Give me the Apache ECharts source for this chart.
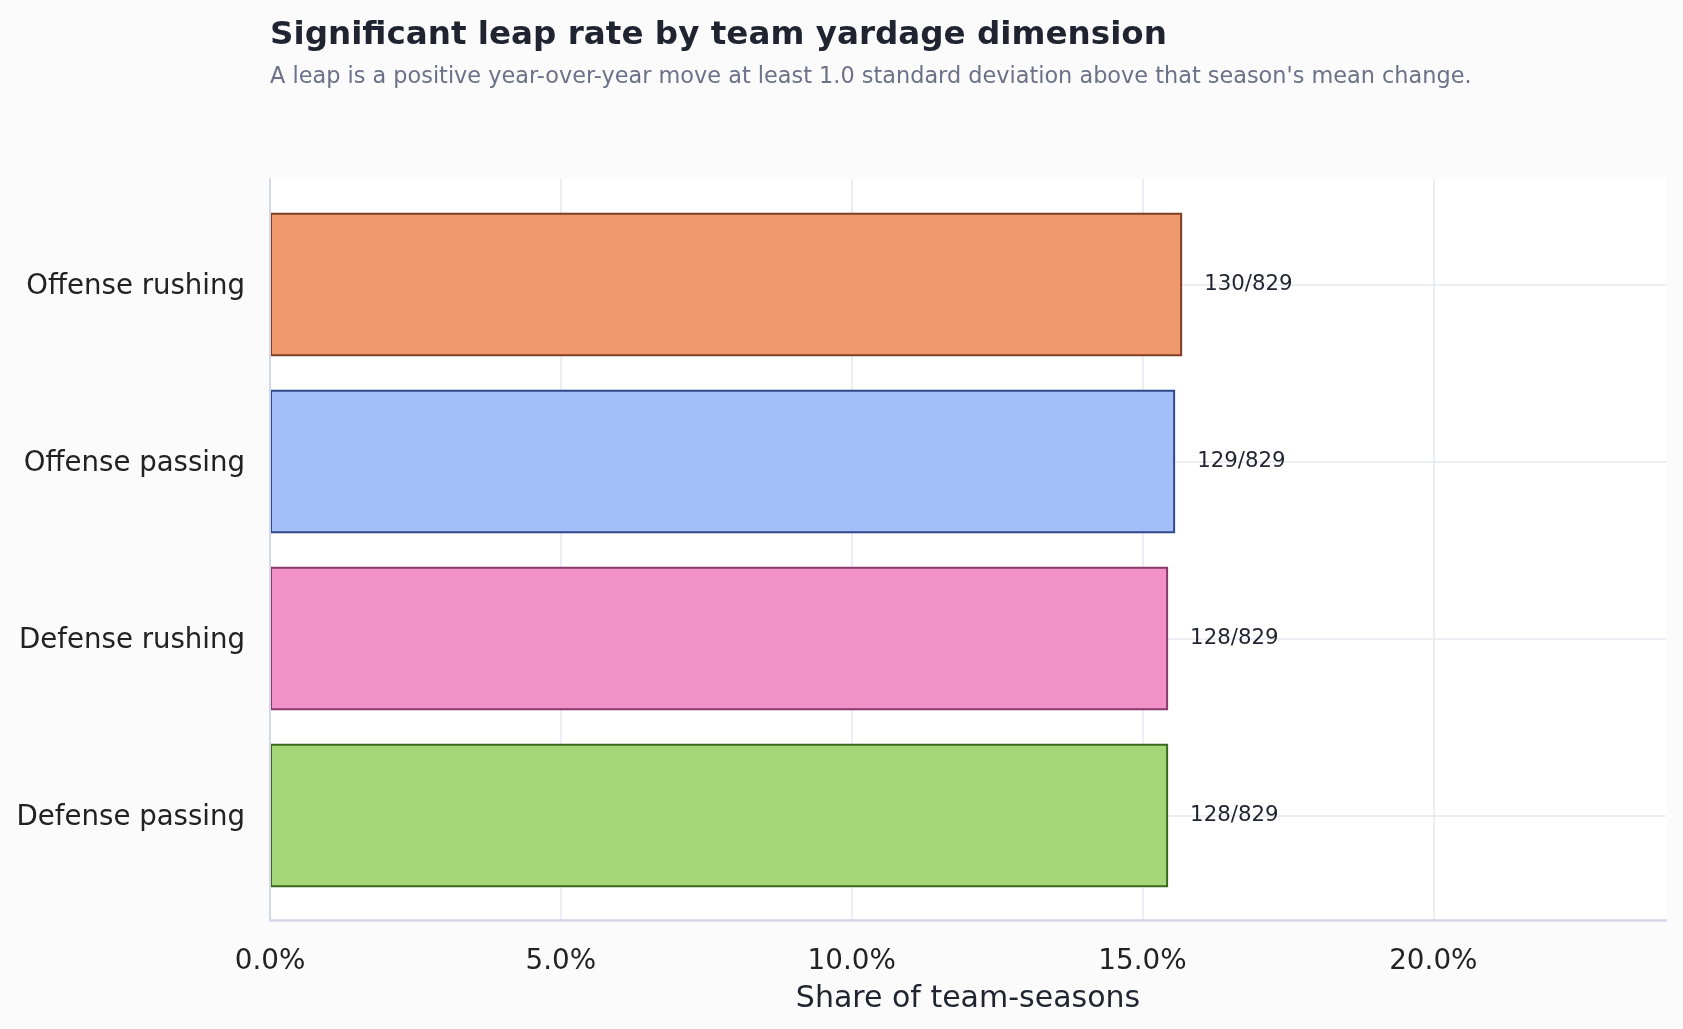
<!DOCTYPE html>
<html>
<head>
<meta charset="utf-8">
<script src="https://cdn.jsdelivr.net/npm/echarts@6/dist/echarts.min.js"></script>
<style>
html,body{margin:0;padding:0;background:#fbfbfb;}
#chart{width:1683px;height:1029px;}
</style>
</head>
<body>
<div id="chart"></div>
<script>
const categories = ['Offense rushing', 'Offense passing', 'Defense rushing', 'Defense passing'];
const leaps = [130, 129, 128, 128];
const totals = [829, 829, 829, 829];
const fillColors = ['#f0996f', '#a4befa', '#f290c8', '#a5d677'];
const edgeColors = ['#7e3f22', '#2f4a8c', '#883a6e', '#3a6a1c'];
const xTicks = [0, 5, 10, 15, 20];
const xMax = 24;

const shares = leaps.map((v, i) => v / totals[i] * 100);
const FONT = 'DejaVu Sans';

const chart = echarts.init(document.getElementById('chart'), null, {renderer: 'canvas'});
const option = {
  backgroundColor: '#fbfbfb',
  animation: false,
  title: [
    {
      text: 'Significant leap rate by team yardage dimension',
      left: 270, top: 19, padding: 0,
      textStyle: {fontFamily: FONT, fontSize: 32.6, fontWeight: 'bold', color: '#1f2430'}
    },
    {
      text: "A leap is a positive year-over-year move at least 1.0 standard deviation above that season's mean change.",
      left: 270, top: 66, padding: 0,
      textStyle: {fontFamily: FONT, fontSize: 22.4, fontWeight: 'normal', color: '#6b7288'}
    }
  ],
  grid: [
    {left: 270, right: 17, top: 179, bottom: 109, show: true, backgroundColor: '#ffffff', borderWidth: 0, containLabel: false},
    {left: 270, right: 17, top: 196, bottom: 125, containLabel: false}
  ],
  xAxis: [
    {
      gridIndex: 0, type: 'value', min: 0, max: xMax, interval: 5,
      axisLine: {show: true, onZero: false, lineStyle: {color: '#d3d7e8', width: 2.5}},
      axisTick: {show: false},
      axisLabel: {
        fontFamily: FONT, fontSize: 27.8, color: '#222222', margin: 28,
        showMaxLabel: false,
        formatter: v => xTicks.includes(v) ? v.toFixed(1) + '%' : ''
      },
      splitLine: {show: true, showMinLine: false, showMaxLine: false, lineStyle: {color: '#e6e8f0', width: 1.5}},
      name: 'Share of team-seasons', nameLocation: 'middle', nameGap: 64,
      nameTextStyle: {fontFamily: FONT, fontSize: 30, color: '#1f2430'}
    },
    {
      gridIndex: 1, type: 'value', min: 0, max: xMax, show: false
    }
  ],
  yAxis: [
    {
      gridIndex: 0, type: 'value', min: 0, max: 1, z: 10,
      axisLine: {show: true, onZero: false, lineStyle: {color: '#d3d7e8', width: 2}},
      axisTick: {show: false}, axisLabel: {show: false}, splitLine: {show: false}
    },
    {
      gridIndex: 1, type: 'category', data: categories, inverse: true,
      axisLine: {show: false}, axisTick: {show: false}, splitLine: {show: false},
      axisLabel: {fontFamily: FONT, fontSize: 27.6, color: '#222222', margin: 25,
                  verticalAlign: 'top', lineHeight: 5}
    }
  ],
  series: [
    {
      type: 'line', xAxisIndex: 1, yAxisIndex: 1, data: [], z: 1, silent: true,
      markLine: {
        silent: true, symbol: ['none', 'none'], animation: false, z: 1,
        label: {show: false},
        lineStyle: {color: '#e6e8f0', width: 1.5, type: 'solid'},
        data: categories.map(c => ({yAxis: c}))
      }
    },
    {
      type: 'bar', xAxisIndex: 1, yAxisIndex: 1, barWidth: '81%', z: 3,
      data: shares.map((v, i) => ({
        value: v,
        itemStyle: {color: fillColors[i], borderColor: edgeColors[i], borderWidth: 2}
      })),
      label: {
        show: true, position: 'right', distance: 22,
        fontFamily: FONT, fontSize: 21.3, color: '#1f2430',
        formatter: p => leaps[p.dataIndex] + '/' + totals[p.dataIndex]
      }
    }
  ]
};
chart.setOption(option);
</script>
</body>
</html>
